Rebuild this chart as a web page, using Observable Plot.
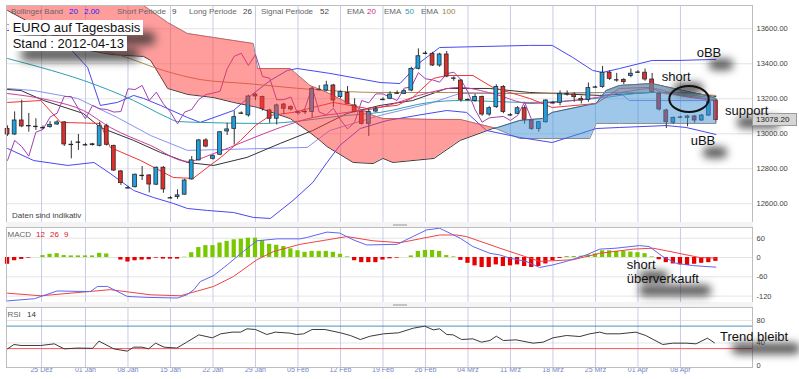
<!DOCTYPE html>
<html><head><meta charset="utf-8">
<script src="https://cdn.jsdelivr.net/npm/d3@7"></script>
<script src="https://cdn.jsdelivr.net/npm/@observablehq/plot@0.6"></script>
<style>
body{margin:0;background:#fff;font-family:"Liberation Sans",Arial,sans-serif;}
#wrap{position:relative;width:799px;height:379px;overflow:hidden;background:#fff;}
#wrap svg{position:absolute;left:0;}
</style></head><body><div id="wrap"></div><script>
// ---------------- DATA ----------------
const tickIdx = [4.8,11,17,23,29,35,41,47,53,59,65,71,77,83,89,95];
const tickLabels = ["25 Dez","01 Jan","08 Jan","15 Jan","22 Jan","29 Jan","05 Feb","12 Feb","19 Feb","26 Feb","04 Mrz","11 Mrz","18 Mrz","25 Mrz","01 Apr","08 Apr"];
const priceTicks = [12600,12800,13000,13200,13400,13600];
const macdTicks = [60,0,-60,-120];
const rsiTicks = [80,40,0];

const opens = [13027,12996,13076,13045,13040,13034,13038,13053,13065,12940,12950,12937,12940,12931,13043,12931,12785,12691,12695,12762,12762,12709,12806,12634,12638,12652,12739,12848,12962,12857,12880,13013,13028,13118,13105,13224,13210,13133,13086,13167,13152,13124,13127,13124,13253,13247,13276,13210,13234,13162,13124,13057,13127,13196,13200,13232,13228,13247,13371,13460,13457,13390,13453,13318,13304,13195,13187,13210,13110,13152,13267,13108,13114,13146,13076,13028,13066,13177,13177,13228,13224,13199,13194,13267,13267,13349,13308,13308,13330,13352,13349,13310,13228,13133,13063,13095,13091,13099,13076,13104,13190];
const highs = [13045,13125,13192,13116,13086,13045,13070,13075,13070,12958,12996,12945,12945,13066,13055,12935,12790,12700,12770,12813,12765,12810,12812,12640,12680,12740,12870,12968,12972,12880,13012,13060,13130,13125,13220,13230,13215,13140,13170,13175,13160,13130,13135,13262,13275,13300,13282,13245,13270,13200,13130,13140,13150,13205,13240,13245,13250,13380,13485,13470,13465,13460,13470,13325,13310,13200,13225,13215,13155,13280,13275,13115,13155,13160,13080,13070,13195,13185,13245,13245,13235,13215,13290,13272,13385,13360,13345,13315,13370,13360,13370,13345,13235,13140,13095,13100,13105,13105,13110,13190,13195];
const lows = [12985,12990,13035,13009,13019,13025,13032,13048,12927,12857,12905,12930,12930,12925,12930,12785,12705,12685,12690,12733,12662,12705,12660,12628,12625,12650,12735,12845,12920,12850,12875,12990,12935,13110,13095,13190,13130,13060,13050,13110,13130,13120,13110,13090,13245,13240,13150,13200,13165,13120,13050,12985,13120,13190,13195,13225,13225,13240,13365,13452,13385,13380,13320,13300,13180,13190,13180,13100,13100,13145,13115,13100,13110,13055,13020,13010,13060,13170,13160,13215,13180,13170,13180,13262,13260,13305,13295,13280,13320,13348,13300,13230,13130,13030,13055,13090,13040,13060,13070,13100,13060];
const closes = [12996,13076,13042,13042,13042,13035,13051,13065,12939,12939,12952,12937,12935,13043,12937,12790,12718,12691,12766,12762,12710,12806,12682,12634,12648,12733,12848,12962,12927,12872,13009,13025,13095,13118,13213,13213,13143,13086,13162,13143,13139,13124,13127,13257,13253,13276,13190,13238,13171,13124,13057,13124,13139,13196,13224,13232,13243,13371,13443,13460,13390,13453,13327,13318,13194,13195,13210,13110,13146,13267,13124,13108,13146,13080,13028,13066,13190,13177,13228,13228,13209,13190,13261,13267,13349,13314,13308,13295,13343,13352,13310,13238,13139,13066,13091,13095,13099,13076,13104,13181,13078.2];

// indicator lines: [candle index, value]
const bbUpper = [[0,13590],[3.7,13602],[7.1,13562],[11.3,13379],[13.1,13162],[15.5,13179],[17.8,13219],[19.2,13202],[21.6,13162],[25.4,13093],[27.2,13065],[31.9,13133],[34.7,13230],[37.1,13305],[39.5,13362],[40.9,13373],[45.5,13345],[52.6,13293],[55.4,13287],[58.2,13407],[61,13493],[73.7,13505],[76.9,13505],[79.8,13436],[82.6,13362],[84,13350],[86.4,13373],[91,13419],[94.8,13419],[100,13425]];
const bbMiddle = [[0,13253],[1.9,13247],[5.1,13190],[10.7,13116],[13.1,13036],[17.8,12962],[21.6,12893],[25.4,12836],[29.1,12819],[33.8,12865],[38.5,12945],[43.1,13019],[47.9,13116],[52.6,13162],[57.2,13190],[62,13259],[68,13259],[73.7,13236],[83.6,13219],[91,13236],[96.2,13236],[100,13213]];
const bbLower = [[0,12916],[3.7,12847],[8.5,12819],[12.2,12836],[14.5,12773],[17.8,12676],[20.6,12636],[23.4,12602],[25.4,12573],[28.2,12562],[31.9,12550],[34.7,12522],[37.1,12516],[40.3,12619],[43.1,12722],[45.1,12836],[46.9,12933],[49.8,13030],[53.6,13076],[57.8,13105],[62,13133],[64.8,13122],[67.6,13019],[72.3,12979],[76.9,12950],[83.1,13030],[86.4,13036],[93,13047],[95.8,13036],[100,12996]];
const tenkan = [[0,13179],[4.7,13190],[7.5,13065],[13.1,13059],[14.5,12922],[18.8,12847],[23.4,12750],[26.2,12745],[28.2,12807],[30.1,12865],[32.9,12962],[35,13047],[37.1,13105],[40.3,13122],[43.1,13150],[46,13179],[50.7,13145],[55,13162],[57.2,13207],[60.1,13316],[62,13333],[65.7,13333],[68.5,13265],[70.9,13236],[73.7,13202],[76.9,13150],[83.1,13173],[86.4,13259],[90.6,13265],[92.4,13236],[97.6,13207],[100,13190]];
const kijun = [[0,13259],[3.7,13247],[9.9,13202],[15.5,13093],[20.2,12990],[25.4,12905],[42.3,12922],[45.5,13019],[52.6,13105],[59.6,13173],[63.8,13230],[73.7,13230],[86.4,13236],[87.8,13190],[100,13190]];
const ema20 = [[0,13230],[6.1,13190],[10.7,13133],[14.5,13036],[20.2,12933],[25.4,12842],[29.1,12887],[33.8,12962],[38.5,13036],[43.1,13093],[47.9,13122],[52.6,13150],[59.6,13236],[63.8,13265],[68.5,13230],[73.7,13173],[76.9,13179],[83.1,13207],[88.2,13247],[91,13259],[94.8,13219],[100,13190]];
const ema50 = [[0,13430],[4.7,13379],[10.7,13305],[17.8,13190],[22.6,13093],[24,13070],[27.2,13065],[36.1,13059],[47.9,13105],[52.6,13122],[59.6,13179],[63.8,13190],[73.7,13179],[83.1,13202],[91,13236],[100,13202]];
const ema100 = [[0,13625],[7.5,13533],[16,13447],[22,13362],[27.2,13310],[33.8,13287],[43.1,13253],[52.6,13236],[62.4,13236],[73.7,13230],[83.6,13236],[91,13236],[100,13219]];

// Ichimoku cloud
const cloudIdx = [0,4.7,9.3,14.6,19.2,20.2,21.6,22.6,25.4,29.1,31.9,34.7,35.3,39.9,42.7,44.1,45.1,48.8,51.6,53,54.4,60.2,63.9,68.5,69.2,72.3,75.5,76.9,82.2,83.1,84.5,86.4,91,93.4,98.6,100];
const spanA = [13705,13602,13493,13453,13442,13419,13327,13259,13225,13207,13179,13156,13150,13087,13007,12962,12927,12836,12830,12859,12836,12859,12962,13030,13036,13076,13087,13122,13167,13173,13247,13276,13287,13265,13219,13202];
const spanB = [13819,13819,13819,13819,13733,13705,13665,13636,13573,13550,13533,13516,13373,13373,13276,13253,13236,13162,13105,13087,13087,13082,13082,13036,13025,12973,12973,12973,12973,13059,13059,13059,13059,13059,13059,13059];
// grey overlap band on top of the recent cloud
const bandIdx = [84.5,86.4,91,93.4,96.2,98.6,100];
const bandTop = [13247,13276,13287,13265,13240,13219,13202];
const bandLow = [13240,13230,13236,13219,13207,13196,13190];

// MACD
const macdHist = [-21,-10,-6,-2,0,6,10,12,6,5,5,5,5,13,11,0,-8,-14,-10,-8,-7,-2,-5,-5,-5,1,15,31,37,37,45,50,55,57,60,60,53,41,38,34,27,21,16,19,19,19,16,10,2,-10,-16,-16,-16,-8,-4,-2,0,5,19,22,22,19,6,2,-9,-18,-26,-31,-31,-23,-28,-26,-23,-28,-31,-28,-20,-10,-3,3,3,4,8,11,21,21,19,19,17,15,12,2,-7,-16,-20,-23,-25,-21,-18,-16,-12];
const macdLine = [[0,-135],[3.8,-128],[7,-104],[11.7,-106],[12.7,-90],[14.1,-90],[16.9,-121],[19.7,-124],[24,-126],[25.3,-116],[26.3,-100],[27.2,-75],[29.1,-56],[31,-23],[33.3,19],[35.2,52],[38.1,58],[41.3,58],[42.2,62],[45.1,79],[46.9,76],[48.8,55],[50.7,39],[55,41],[57.3,66],[59.2,86],[61,91],[63.9,60],[65.7,34],[68.1,13],[69.5,8],[70.9,-2],[73.2,-12],[75.1,-31],[77,-23],[78.9,-12],[81.7,8],[83.6,26],[85.9,29],[89.2,37],[90.6,34],[92.5,3],[94.4,-18],[96.7,-25],[98.6,-28],[100,-30]];
const macdSignal = [[0,-111],[4.7,-119],[14.5,-100],[20.2,-116],[24.4,-119],[29.1,-90],[31.9,-59],[35.2,-7],[37.6,19],[41.3,41],[47.9,65],[51.6,52],[55.4,46],[58.2,58],[61,70],[63.4,70],[64.8,65],[69.5,29],[75.1,-12],[79.8,-7],[83.6,13],[88.3,26],[91.1,29],[93,21],[97.7,0],[100,-2]];

// RSI 14
const rsi = [[0,29.6],[0.9,37.3],[1.9,35.6],[4.7,35.6],[6.6,38.5],[8,29.6],[9.9,31],[12,30.5],[12.9,43.3],[15,29.6],[16.9,25.5],[17.8,32.6],[19,32.6],[19.9,29.6],[20.9,39.7],[22.1,32.6],[23.9,31],[25.3,41.5],[27,54.5],[28.9,49.2],[30.1,56.3],[31.7,59.3],[32.9,59.3],[33.8,65.2],[35,64],[36.6,55.1],[37.8,59.3],[39.9,57.5],[40.8,55],[41.8,56.3],[43,64],[44.8,64],[47,58.1],[48.4,53.3],[49.8,46.2],[51.2,52.1],[53.1,56.3],[55.2,58.1],[57.3,66.4],[58.9,69.9],[60.1,63.4],[61,65.2],[62,55.1],[62.9,54.5],[64.1,46.2],[65.7,47.4],[66.9,41.5],[68.1,44.4],[69,52.1],[70,44.4],[71.8,45.6],[74.2,39.7],[75.6,41.5],[77,49.2],[78.9,53.3],[80.8,51.5],[82.2,56.3],[83.6,59.3],[84.5,56.3],[86.4,56.3],[88.7,59.3],[90.1,53.3],[92.5,37.3],[93.9,39.7],[95.8,39.7],[97.2,38.5],[98.8,48.6],[99.8,40.3]];
const rsiLevels = [70, 30];
const lastPrice = "13078.20";

// ---------------- BUILD ----------------
const wrap = document.getElementById("wrap");
const FONT = "Liberation Sans, Arial, sans-serif";
const common = {
  width: 799, marginLeft: 6, marginRight: 47,
  x: {domain: [-0.15, 105.17], axis: null},
  style: {background: "transparent", fontFamily: FONT, overflow: "visible"}
};
const pt = arr => arr.map(([i, v]) => ({i, v}));
const line = (arr, stroke, extra = {}) => Plot.line(pt(arr), {x: "i", y: "v", stroke, strokeWidth: 1, clip: true, ...extra});

const candles = closes.map((c, i) => ({i, o: opens[i], h: highs[i], l: lows[i], c}));
const isDoji = d => Math.abs(d.c - d.o) < 3;
const chikou = closes.slice(26).map((v, k) => ({i: k, v}));
const cloud = cloudIdx.map((i, k) => ({i, a: spanA[k], b: spanB[k]}));
const band = bandIdx.map((i, k) => ({i, t: bandTop[k], l: bandLow[k]}));
const gridV = "#c6cce8", gridH = "#e4e4e4";

const mainChart = Plot.plot({
  ...common, height: 222, marginTop: 5, marginBottom: 0,
  y: {domain: [12493, 13733], axis: null},
  marks: [
    Plot.ruleY(priceTicks, {stroke: gridH}),
    Plot.ruleX(tickIdx, {stroke: gridV}),
    Plot.line(cloud, {x: "i", y: "b", stroke: "#8a8a8a", strokeWidth: 1, clip: true}),
    Plot.line(cloud, {x: "i", y: "a", stroke: "#3a3a3a", strokeWidth: 1, clip: true}),
    line(bbUpper, "#4848f2"),
    line(bbLower, "#4848f2"),
    line(kijun, "#8a92f2"),
    line(bbMiddle, "#333333"),
    line(ema100, "#b08a55", {curve: "monotone-x"}),
    line(ema50, "#2e9fb0", {curve: "monotone-x"}),
    line(ema20, "#cc3d9c", {curve: "monotone-x"}),
    line(tenkan, "#f03535"),
    Plot.line(chikou, {x: "i", y: "v", stroke: "#a040b0", strokeWidth: 1, clip: true}),
    Plot.ruleX(candles, {x: "i", y1: "l", y2: "h", stroke: "#333", strokeWidth: 1}),
    Plot.rect(candles.filter(d => !isDoji(d) && d.c > d.o), {x1: d => d.i - 0.27, x2: d => d.i + 0.27, y1: "o", y2: "c", fill: "#1ea0e2", stroke: "#2a2a2a", strokeWidth: 0.8}),
    Plot.rect(candles.filter(d => !isDoji(d) && d.c < d.o), {x1: d => d.i - 0.27, x2: d => d.i + 0.27, y1: "o", y2: "c", fill: "#e22d2d", stroke: "#2a2a2a", strokeWidth: 0.8}),
    Plot.ruleY(candles.filter(isDoji), {y: "c", x1: d => d.i - 0.32, x2: d => d.i + 0.32, stroke: "#222", strokeWidth: 1.3}),
    Plot.areaY(cloud, {x: "i", y1: "a", y2: d => Math.max(d.a, d.b), fill: "#ff3c3c", fillOpacity: 0.5, clip: true}),
    Plot.areaY(cloud, {x: "i", y1: "b", y2: d => Math.max(d.a, d.b), fill: "#3d8fd6", fillOpacity: 0.5, clip: true}),
    Plot.areaY(band, {x: "i", y1: "l", y2: "t", fill: "#7d858c", fillOpacity: 0.45, clip: true}),
    Plot.axisY(priceTicks, {anchor: "right", tickSize: 0, tickPadding: 4, tickFormat: d => d.toFixed(2), fontSize: 7.5, fill: "#444", label: null}),
    Plot.frame({stroke: "#bdbdbd"})
  ]
});
mainChart.style.top = "0px";
wrap.appendChild(mainChart);

const hist = macdHist.map((v, i) => ({i, v}));
const macdChart = Plot.plot({
  ...common, height: 75, marginTop: 0, marginBottom: 0,
  y: {domain: [-139.9, 93.3], axis: null},
  marks: [
    Plot.ruleY(macdTicks, {stroke: gridH}),
    Plot.ruleX(tickIdx, {stroke: gridV}),
    Plot.rect(hist.filter(d => d.v > 0), {x1: d => d.i - 0.3, x2: d => d.i + 0.3, y1: 0, y2: "v", fill: "#78c800"}),
    Plot.rect(hist.filter(d => d.v < 0), {x1: d => d.i - 0.3, x2: d => d.i + 0.3, y1: 0, y2: "v", fill: "#e80000"}),
    line(macdSignal, "#ee4444"),
    line(macdLine, "#6464f0"),
    Plot.axisY(macdTicks, {anchor: "right", tickSize: 0, tickPadding: 4, tickFormat: d => String(d), fontSize: 7.5, fill: "#444", label: null}),
    Plot.frame({stroke: "#bdbdbd"})
  ]
});
macdChart.style.top = "227px";
wrap.appendChild(macdChart);

const rsiChart = Plot.plot({
  ...common, height: 72, marginTop: 0, marginBottom: 12,
  y: {domain: [-3.56, 103.1], axis: null},
  marks: [
    Plot.ruleY([40, 80], {stroke: gridH}),
    Plot.ruleX(tickIdx, {stroke: gridV}),
    Plot.ruleY([rsiLevels[0]], {stroke: "#4f93b8"}),
    Plot.ruleY([rsiLevels[1]], {stroke: "#ff5252"}),
    line(rsi, "#3a3a3a"),
    Plot.axisY(rsiTicks, {anchor: "right", tickSize: 0, tickPadding: 4, tickFormat: d => String(d), fontSize: 7.5, fill: "#444", label: null}),
    Plot.text(tickIdx, {x: d => d, text: (d, i) => tickLabels[i], frameAnchor: "bottom", dy: 4.5, fontSize: 7, fill: "#7384c4"}),
    Plot.frame({stroke: "#bdbdbd"})
  ]
});
rsiChart.style.top = "307px";
wrap.appendChild(rsiChart);

// separators
function box(x, y, w, h, st) {
  const d = document.createElement("div");
  Object.assign(d.style, {position: "absolute", left: x + "px", top: y + "px", width: w + "px", height: h + "px", boxSizing: "border-box"}, st || {});
  wrap.appendChild(d); return d;
}
box(6, 222, 747, 5, {background: "#f4f4f4"});
box(6, 302, 747, 5, {background: "#f4f4f4"});
box(393, 223.5, 14, 2.5, {background: "#c4c4c4"});
box(393, 303.5, 14, 2.5, {background: "#c4c4c4"});

function addText(txt, x, baseline, size, color, st) {
  const d = document.createElement("div");
  d.textContent = txt;
  Object.assign(d.style, {position: "absolute", left: x + "px", top: (baseline - 0.8465 * size) + "px", fontSize: size + "px", lineHeight: size + "px", color, whiteSpace: "nowrap", fontFamily: FONT}, st || {});
  wrap.appendChild(d); return d;
}

// indicator legends
[["Bollinger Band",11,"#666"],["20",69,"#1a1aff"],["2.00",84,"#1a1aff"],["Short Periode",117,"#666"],["9",172,"#444"],["Long Periode",189,"#666"],["26",243,"#444"],["Signal Periode",261,"#666"],["52",320,"#444"],["EMA",347,"#666"],["20",367,"#d02890"],["EMA",384,"#666"],["50",405,"#2a9aae"],["EMA",421,"#666"],["100",442,"#a08040"]]
  .forEach(([t, x, c]) => addText(t, x, 15, 8, c));
[["MACD",7.5,"#666"],["12",36,"#e02020"],["26",50,"#e02020"],["9",64,"#e02020"]].forEach(([t, x, c]) => addText(t, x, 237.5, 8, c));
[["RSI",7.5,"#666"],["14",27,"#333"]].forEach(([t, x, c]) => addText(t, x, 317.5, 8, c));
addText("Daten sind indikativ", 12, 218.5, 8, "#444");

// title boxes, each with a blurred shadow blob behind it
function titleLine(txt, top) {
  const d = document.createElement("div");
  d.textContent = txt;
  Object.assign(d.style, {position: "absolute", left: "9px", top: top + "px", padding: "0 3px 0 3.7px", height: "15px", fontSize: "13px", lineHeight: "15px", color: "#111", background: "#fff", whiteSpace: "nowrap", fontFamily: FONT});
  wrap.appendChild(d);
  const w = d.getBoundingClientRect().width;
  d.remove();
  box(9 + 12, top + 12, w, 13, {background: "rgba(45,45,45,0.8)", filter: "blur(5px)", borderRadius: "5px"});
  wrap.appendChild(d);
}
titleLine("EURO auf Tagesbasis", 20.3);
titleLine("Stand : 2012-04-13", 35.5);

// annotations: blurred shadow blobs first, then price tag, then texts
const notes = [["oBB",696.7,56.7],["short",661.7,80.7],["support",725,115],["uBB",690.7,145],["short",626.7,269.3],["überverkauft",626.7,283.3],["Trend bleibt",720,340.7]];
const texts = notes.map(([t, x, b]) => addText(t, x, b, 13, "#111"));
const widths = texts.map(d => d.getBoundingClientRect().width);
texts.forEach(d => d.remove());
notes.forEach(([t, x, b], k) => box(x + 12, b - 9 + 11, widths[k], 11, {background: "rgba(45,45,45,0.8)", filter: "blur(4.5px)", borderRadius: "5px"}));
box(752, 113, 45, 13, {background: "#d6d6d6", border: "1px solid #9a9a9a"});
addText(lastPrice, 756, 122.5, 8, "#222");
notes.forEach(([t, x, b]) => addText(t, x, b, 13, "#111"));

// ellipse annotation
const ns = "http://www.w3.org/2000/svg";
const ov = document.createElementNS(ns, "svg");
ov.setAttribute("width", 799); ov.setAttribute("height", 379);
ov.style.position = "absolute"; ov.style.left = "0"; ov.style.top = "0";
const el = document.createElementNS(ns, "ellipse");
el.setAttribute("cx", 689); el.setAttribute("cy", 99); el.setAttribute("rx", 19.7); el.setAttribute("ry", 13);
el.setAttribute("fill", "none"); el.setAttribute("stroke", "#111"); el.setAttribute("stroke-width", 2);
ov.appendChild(el);
wrap.appendChild(ov);
</script></body></html>
